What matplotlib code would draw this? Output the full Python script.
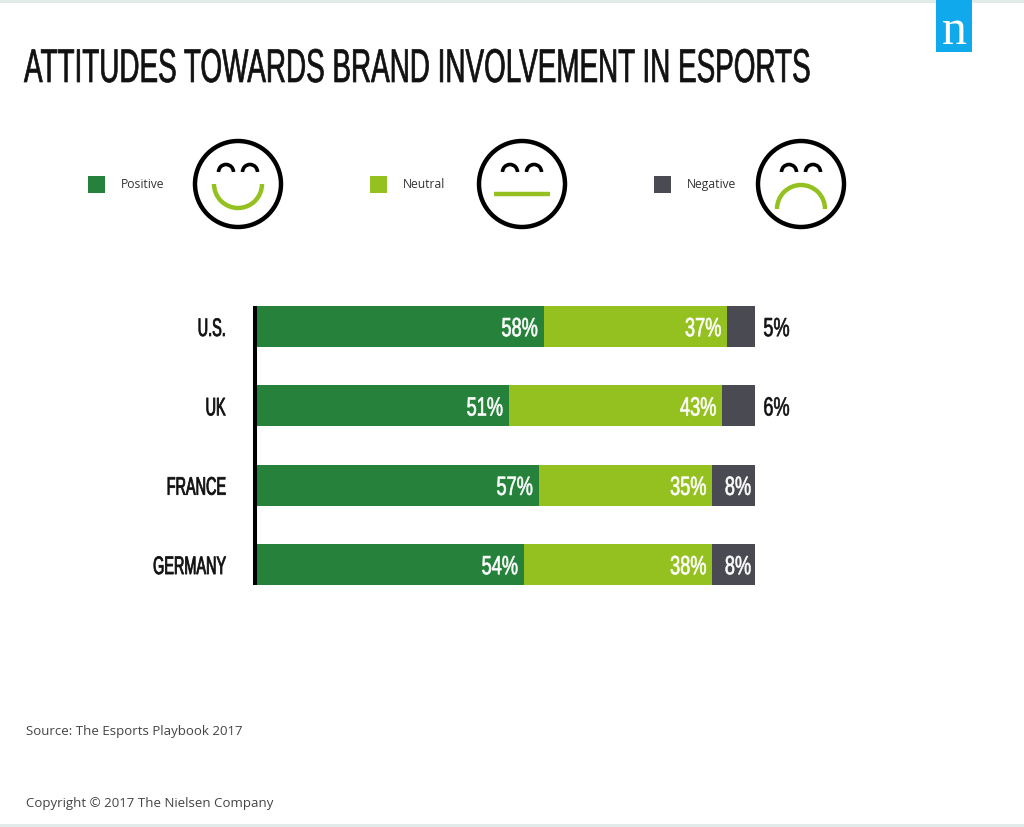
# -*- coding: utf-8 -*-

import numpy as np
import matplotlib
matplotlib.use("Agg")
import matplotlib.pyplot as plt
from matplotlib.patches import Arc, Circle, Rectangle
from matplotlib.patheffects import AbstractPathEffect
from matplotlib.transforms import Affine2D

countries = ['U.S.', 'UK', 'France', 'Germany']
positive = np.array([58, 51, 57, 54])
neutral = np.array([37, 43, 35, 38])
negative = np.array([5, 6, 8, 8])
legend_labels = ['Positive', 'Neutral', 'Negative']

green = '#26823a'
lime = '#94c11f'
grey = '#4a4a52'
narrow = 'Liberation Sans'
body = ['Open Sans', 'DejaVu Sans']


# no condensed poster font here, so small text gets stretched upwards and thickened
class Tall(AbstractPathEffect):
    def __init__(self, sy, dy=0, stroke=0.6):
        self.sy = sy
        self.dy = dy
        self.stroke = stroke

    def draw_path(self, renderer, gc, tpath, affine, rgbFace=None):
        tall = Affine2D().scale(1, self.sy) + affine + Affine2D().translate(0, self.dy)
        gc0 = renderer.new_gc()
        gc0.copy_properties(gc)
        gc0.set_linewidth(self.stroke)
        gc0.set_foreground(rgbFace)
        renderer.draw_path(gc0, tpath, tall, rgbFace)
        gc0.restore()


fig = plt.figure(figsize=(10.24, 8.27), dpi=100)

# overlay in pixel coordinates for the title, legend and faces
bg = fig.add_axes([0, 0, 1, 1])
bg.set_xlim(0, 1024)
bg.set_ylim(827, 0)
bg.axis('off')

bg.add_patch(Rectangle((0, 0), 1024, 3, color='#e3eaea', lw=0))
bg.add_patch(Rectangle((0, 824), 1024, 3, color='#e3eaea', lw=0))
bg.add_patch(Rectangle((936, 0), 36, 52, color='#0fa9ec', lw=0))
bg.text(954.5, 44, 'n', color='white', fontsize=36, family='Liberation Serif',
        ha='center', va='baseline')

bg.text(24, 82, 'ATTITUDES TOWARDS BRAND INVOLVEMENT IN ESPORTS', fontsize=20.05,
        family=narrow, color='#111111', va='baseline',
        path_effects=[Tall(1.7, stroke=0.5)])


def draw_face(cx, mood):
    bg.add_patch(Circle((cx, 184), 43, fill=False, ec='black', lw=3.2))
    for dx in (-12, 12):
        bg.add_patch(Arc((cx + dx, 172), 15, 15, theta1=180, theta2=360,
                         ec='black', lw=2.6))
    if mood == 'happy':
        bg.add_patch(Arc((cx, 184), 48, 48, theta1=0, theta2=180, ec=lime, lw=3.2))
    elif mood == 'sad':
        bg.add_patch(Arc((cx, 209), 48, 48, theta1=180, theta2=360, ec=lime, lw=3.2))
    else:
        bg.plot([cx - 28, cx + 28], [194, 194], color=lime, lw=3.2,
                solid_capstyle='butt')


for x, label, color in zip([88, 370, 654], legend_labels, [green, lime, grey]):
    bg.add_patch(Rectangle((x, 176), 17, 17, color=color, lw=0))
    bg.text(x + 33, 184.5, label, fontsize=8.7, family=body, color='#333333',
            va='center')
draw_face(238, 'happy')
draw_face(522, 'flat')
draw_face(801, 'sad')

bg.text(26, 731, 'Source: The Esports Playbook 2017', fontsize=9.5, family=body,
        color='#444444', va='center')
bg.text(26, 803, 'Copyright © 2017 The Nielsen Company', fontsize=9.5, family=body,
        color='#444444', va='center')

# bars
ax = fig.add_axes([256 / 1024, 1 - 604.2 / 827, 499 / 1024, 317.4 / 827])
ax.patch.set_alpha(0)
x_end = 499 / 4.96
y = np.arange(len(countries))
bar_h = 41 / 79.35

ax.barh(y, positive, height=bar_h, color=green)
ax.barh(y, neutral, left=positive, height=bar_h, color=lime)
# grey segment runs through to the end of the frame, as in the source graphic
ax.barh(y, x_end - (positive + neutral), left=positive + neutral, height=bar_h, color=grey)
ax.set_xlim(0, x_end)
ax.set_ylim(3.5, -0.5)

for s in ['top', 'right', 'bottom']:
    ax.spines[s].set_visible(False)
ax.spines['left'].set_linewidth(2.9)
ax.spines['left'].set_capstyle('butt')
ax.spines['left'].set_position(('outward', 1))
ax.spines['left'].set_bounds(-0.258, 3.258)
ax.set_xticks([])
ax.set_yticks(y)
ax.set_yticklabels([c.upper() for c in countries], fontsize=10.4, family=narrow,
                   color='#111111')
ax.tick_params(axis='y', length=0, pad=21)
for tick in ax.get_yticklabels():
    tick.set_path_effects([Tall(1.75, dy=-4, stroke=0.6)])

label_style = dict(textcoords='offset points', va='baseline', fontsize=13.1, family=narrow,
                   path_effects=[Tall(1.45, stroke=0.45)], annotation_clip=False)
for i in y:
    ax.annotate(f'{positive[i]}%', (positive[i], i), xytext=(-4.5, -7), ha='right',
                color='white', **label_style)
    ax.annotate(f'{neutral[i]}%', (positive[i] + neutral[i], i), xytext=(-4.5, -7), ha='right',
                color='white', **label_style)
    if negative[i] < 8:
        ax.annotate(f'{negative[i]}%', (x_end, i), xytext=(6, -7), ha='left',
                    color='#111111', **label_style)
    else:
        ax.annotate(f'{negative[i]}%', (x_end, i), xytext=(-3, -7), ha='right',
                    color='white', **label_style)

fig.savefig('out.png', dpi=100)
